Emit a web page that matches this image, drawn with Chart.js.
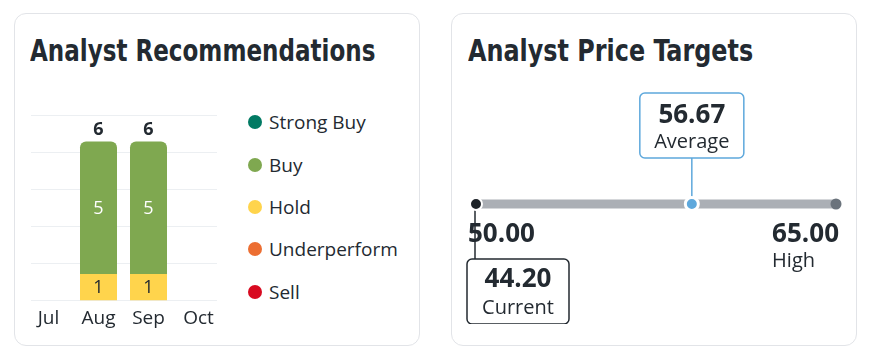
<!DOCTYPE html>
<html>
<head>
<meta charset="utf-8">
<script src="https://cdn.jsdelivr.net/npm/chart.js@4.4.1/dist/chart.umd.min.js"></script>
<style>
  body { margin: 0; background: #fff; width: 880px; height: 362px; position: relative; overflow: hidden; font-family: "Open Sans", sans-serif; color: #232a31; }
  .card { position: absolute; top: 13px; width: 404px; height: 331px; border: 1.5px solid #e2e4e8; border-radius: 12px; }
  #card1 { left: 14px; }
  #card2 { left: 451px; }
  .title { position: absolute; top: 33px; font-family: "DejaVu Sans Condensed", "DejaVu Sans", sans-serif; font-weight: bold; font-size: 30px; line-height: 36px; white-space: nowrap; color: #232a31; transform-origin: 0 0; }
  #title1 { left: 30px; transform: scaleX(0.854); }
  #title2 { left: 468px; transform: scaleX(0.885); }
  #recChart { position: absolute; left: 15px; top: 95px; }
  #priceChart { position: absolute; left: 452px; top: 84px; }
  #legend { position: absolute; left: 248px; top: 101px; }
  .item { height: 42.4px; display: flex; align-items: center; font-size: 19px; }
  .dot { width: 14px; height: 14px; border-radius: 50%; margin-right: 7px; }
</style>
</head>
<body>
<div class="card" id="card1"></div>
<div class="card" id="card2"></div>
<div class="title" id="title1">Analyst Recommendations</div>
<div class="title" id="title2">Analyst Price Targets</div>
<canvas id="recChart" width="220" height="245"></canvas>
<div id="legend"></div>
<canvas id="priceChart" width="404" height="240"></canvas>
<script>
// recommendations per month
const months = ["Jul", "Aug", "Sep", "Oct"];
const strongBuy = [0, 0, 0, 0];
const buy = [0, 5, 5, 0];
const hold = [0, 1, 1, 0];
const underperform = [0, 0, 0, 0];
const sell = [0, 0, 0, 0];
const recYMax = 7;

// price targets
const currentPrice = 44.20;
const lowTarget = 50.00;
const averageTarget = 56.67;
const highTarget = 65.00;

const textColor = "#232a31";

// series listed top to bottom (legend order), stacked bottom to top
const series = [
  { label: "Strong Buy", data: strongBuy, color: "#017a63", text: "#fff" },
  { label: "Buy", data: buy, color: "#7fa850", text: "#fff" },
  { label: "Hold", data: hold, color: "#ffd44c", text: textColor },
  { label: "Underperform", data: underperform, color: "#ec6e32", text: "#fff" },
  { label: "Sell", data: sell, color: "#d80a20", text: "#fff" },
];

// legend
const legend = document.getElementById("legend");
series.forEach((s) => {
  const item = document.createElement("div");
  item.className = "item";
  const dot = document.createElement("span");
  dot.className = "dot";
  dot.style.background = s.color;
  item.appendChild(dot);
  item.appendChild(document.createTextNode(s.label));
  legend.appendChild(item);
});

const stacked = series.slice().reverse();

// grid lines, a bit shorter than the category band
const recGrid = {
  id: "recGrid",
  beforeDatasetsDraw(chart) {
    const ctx = chart.ctx;
    const y = chart.scales.y;
    const area = chart.chartArea;
    ctx.save();
    ctx.strokeStyle = "#eceff2";
    ctx.lineWidth = 1;
    for (let i = 0; i <= 5; i++) {
      const py = Math.round(y.getPixelForValue((recYMax / 5) * i)) + 0.5;
      ctx.beginPath();
      ctx.moveTo(area.left + 7.5, py);
      ctx.lineTo(area.right - 6.5, py);
      ctx.stroke();
    }
    ctx.restore();
  },
};

// values inside segments and totals above
const recLabels = {
  id: "recLabels",
  afterDatasetsDraw(chart) {
    const ctx = chart.ctx;
    ctx.save();
    ctx.textAlign = "center";
    ctx.textBaseline = "middle";
    chart.data.datasets.forEach((ds, di) => {
      const meta = chart.getDatasetMeta(di);
      meta.data.forEach((bar, i) => {
        if (!ds.data[i]) return;
        ctx.fillStyle = stacked[di].text;
        ctx.font = "18px 'Open Sans'";
        ctx.fillText(ds.data[i], bar.x, (bar.y + bar.base) / 2 + 1);
      });
    });
    months.forEach((m, i) => {
      const total = series.reduce((a, s) => a + s.data[i], 0);
      if (!total) return;
      const top = chart.scales.y.getPixelForValue(total);
      const x = chart.scales.x.getPixelForValue(i);
      ctx.fillStyle = textColor;
      ctx.font = "bold 18px 'Open Sans'";
      ctx.fillText(total, x, top - 12);
    });
    ctx.restore();
  },
};

new Chart(document.getElementById("recChart"), {
  type: "bar",
  data: {
    labels: months,
    datasets: stacked.map((s) => ({
      label: s.label,
      data: s.data,
      backgroundColor: s.color,
      borderRadius: 6,
      categoryPercentage: 1,
      barPercentage: 0.74,
    })),
  },
  options: {
    responsive: false,
    animation: false,
    layout: { padding: { top: 20, bottom: 3.6, left: 8.5, right: 11.5 } },
    plugins: { legend: { display: false }, tooltip: { enabled: false } },
    scales: {
      x: {
        stacked: true,
        grid: { display: false, drawTicks: false },
        border: { display: false },
        ticks: { color: textColor, font: { family: "Open Sans", size: 19 }, padding: 6.6, maxRotation: 0 },
      },
      y: { stacked: true, display: false, min: 0, max: recYMax },
    },
  },
  plugins: [recGrid, recLabels],
});

// price target callouts
function box(ctx, x, y, w, h, color) {
  ctx.beginPath();
  ctx.roundRect(x, y, w, h, 5);
  ctx.fillStyle = "#fff";
  ctx.fill();
  ctx.lineWidth = 1.5;
  ctx.strokeStyle = color;
  ctx.stroke();
}

const priceLabels = {
  id: "priceLabels",
  beforeDatasetsDraw(chart) {
    const ctx = chart.ctx;
    const x = chart.scales.x;
    const y0 = chart.scales.y.getPixelForValue(0);
    const curX = x.getPixelForValue(currentPrice);
    const lowX = x.getPixelForValue(Math.max(lowTarget, x.min));
    const avgX = x.getPixelForValue(averageTarget);
    const highX = x.getPixelForValue(highTarget);
    ctx.save();
    ctx.fillStyle = textColor;
    ctx.textBaseline = "alphabetic";

    // low and high labels
    ctx.font = "bold 26px 'Open Sans'";
    ctx.textAlign = "left";
    ctx.fillText(lowTarget.toFixed(2), Math.min(lowX, curX) - 8, y0 + 37.5);
    ctx.textAlign = "right";
    ctx.fillText(highTarget.toFixed(2), highX + 3, y0 + 37.5);
    const hw = ctx.measureText(highTarget.toFixed(2)).width;
    ctx.font = "20px 'Open Sans'";
    ctx.textAlign = "left";
    ctx.fillText("High", highX + 3 - hw, y0 + 62.5);

    // average callout
    ctx.strokeStyle = "#5ea8dc";
    ctx.lineWidth = 1.5;
    ctx.beginPath();
    ctx.moveTo(avgX, y0 - 46);
    ctx.lineTo(avgX, y0);
    ctx.stroke();
    box(ctx, avgX - 52, y0 - 111, 104, 65, "#5ea8dc");
    ctx.fillStyle = textColor;
    ctx.textAlign = "center";
    ctx.font = "bold 26px 'Open Sans'";
    ctx.fillText(averageTarget.toFixed(2), avgX, y0 - 81.5);
    ctx.font = "20px 'Open Sans'";
    ctx.fillText("Average", avgX, y0 - 56);

    // current callout
    ctx.strokeStyle = textColor;
    ctx.beginPath();
    ctx.moveTo(curX - 1, y0);
    ctx.lineTo(curX - 1, y0 + 55);
    ctx.stroke();
    box(ctx, curX - 9, y0 + 55, 102, 65, textColor);
    ctx.fillStyle = textColor;
    ctx.font = "bold 26px 'Open Sans'";
    ctx.fillText(currentPrice.toFixed(2), curX + 42, y0 + 83);
    ctx.font = "20px 'Open Sans'";
    ctx.fillText("Current", curX + 42, y0 + 109.5);
    ctx.restore();
  },
};

const rangeMin = Math.min(currentPrice, lowTarget);
const rangeMax = Math.max(currentPrice, highTarget);

new Chart(document.getElementById("priceChart"), {
  type: "scatter",
  data: {
    datasets: [
      {
        data: [{ x: averageTarget, y: 0 }],
        pointRadius: 6.5,
        pointBackgroundColor: "#5ea8dc",
        pointBorderColor: "#fff",
        pointBorderWidth: 3,
        clip: false,
      },
      {
        data: [{ x: currentPrice, y: 0 }],
        pointRadius: 6,
        pointBackgroundColor: "#1e2329",
        pointBorderColor: "#fff",
        pointBorderWidth: 2,
        clip: false,
      },
      {
        data: [{ x: highTarget, y: 0 }],
        pointRadius: 5.5,
        pointBackgroundColor: "#6b737c",
        pointBorderWidth: 0,
        clip: false,
      },
      {
        type: "line",
        data: [{ x: rangeMin, y: 0 }, { x: rangeMax, y: 0 }],
        borderColor: "#abafb5",
        borderWidth: 9,
        borderCapStyle: "round",
        pointRadius: 0,
        clip: false,
      },
    ],
  },
  options: {
    responsive: false,
    animation: false,
    layout: { padding: { left: 24, right: 20, top: 0, bottom: 0 } },
    plugins: { legend: { display: false }, tooltip: { enabled: false } },
    scales: {
      x: { type: "linear", display: false, min: rangeMin, max: rangeMax },
      y: { display: false, min: -1, max: 1 },
    },
  },
  plugins: [priceLabels],
});
</script>
</body>
</html>
